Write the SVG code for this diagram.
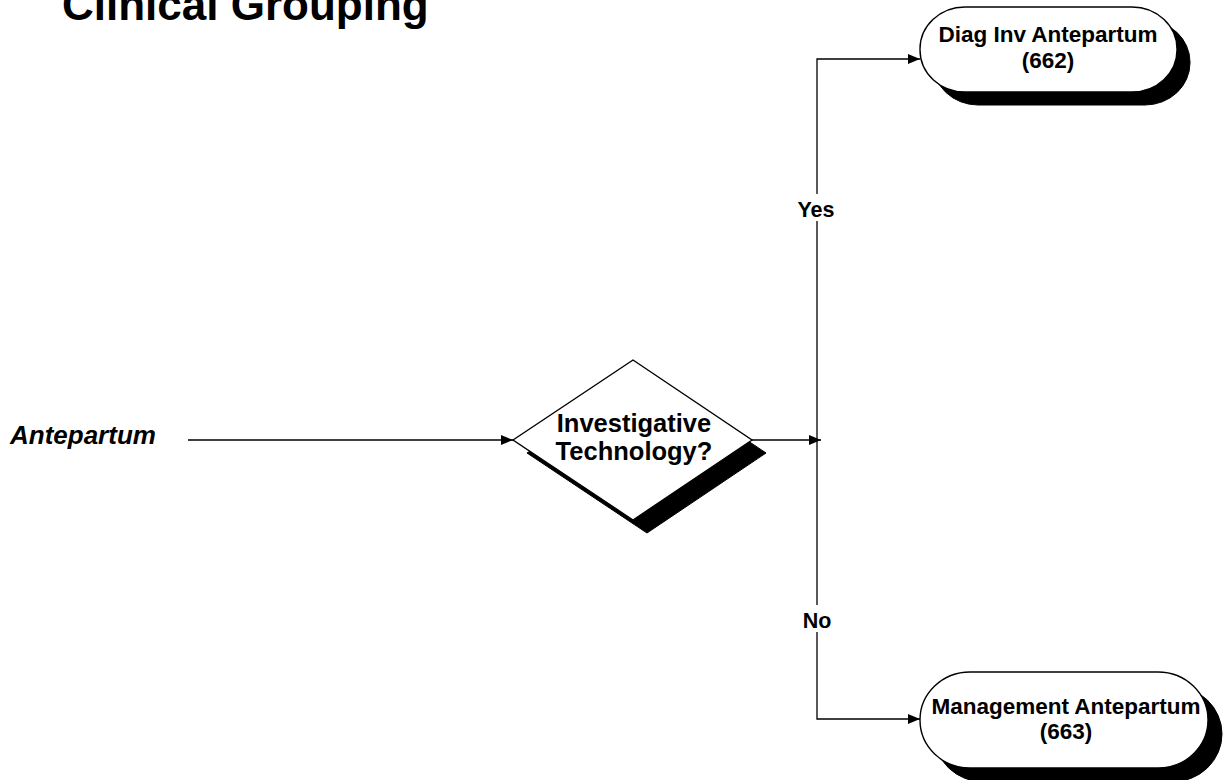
<svg xmlns="http://www.w3.org/2000/svg" width="1223" height="780" viewBox="0 0 1223 780">
<style>
text{font-family:"Liberation Sans",Arial,sans-serif;font-weight:bold;fill:#000}
.shape{fill:#fff;stroke:#000;stroke-width:1.4}
.shadow{fill:#000;stroke:#000;stroke-width:1}
.conn{fill:none;stroke:#000;stroke-width:1.3}
.nl{font-size:22.5px;text-anchor:middle}
.el{font-size:21.5px;text-anchor:middle}
</style>
<defs>
<marker id="arr" viewBox="0 0 12 10" refX="12" refY="5" markerWidth="12" markerHeight="10" markerUnits="userSpaceOnUse" orient="auto">
<path d="M0,0 L12,5 L0,10 Z" fill="#000"/>
</marker>
</defs>
<rect width="1223" height="780" fill="#fff"/>
<text id="title" x="62" y="20" style="font-size:44px">Clinical Grouping</text>
<g id="connectors">
<line class="conn" x1="188" y1="440" x2="513" y2="440" marker-end="url(#arr)"/>
<line class="conn" x1="752" y1="440" x2="821" y2="440" marker-end="url(#arr)"/>
<polyline class="conn" points="817,440 817,59 920,59" marker-end="url(#arr)"/>
<polyline class="conn" points="817,440 817,719 920,719" marker-end="url(#arr)"/>
<rect x="795" y="194" width="44" height="27" fill="#fff"/>
<text class="el" x="816" y="217">Yes</text>
<rect x="798" y="605" width="38" height="27" fill="#fff"/>
<text class="el" x="817" y="628">No</text>
</g>
<g id="start">
<text x="10" y="444" style="font-size:26px;font-style:italic">Antepartum</text>
</g>
<g id="decision">
<polygon class="shadow" points="527,453 647,373 766,453 647,533"/>
<polygon class="shape" points="513,440 633,360 752,440 633,520"/>
<text x="634" y="432" style="font-size:25.5px;text-anchor:middle">Investigative</text>
<text x="634" y="460" style="font-size:25.5px;text-anchor:middle">Technology?</text>
</g>
<g id="node662">
<rect class="shadow" x="933" y="20" width="257" height="85" rx="45" ry="42"/>
<rect class="shape" x="920" y="7" width="257" height="85" rx="45" ry="42"/>
<text class="nl" x="1048" y="42">Diag Inv Antepartum</text>
<text class="nl" x="1048" y="68">(662)</text>
</g>
<g id="node663">
<rect class="shadow" x="934" y="686" width="288" height="96" rx="50" ry="48"/>
<rect class="shape" x="920" y="672" width="288" height="96" rx="50" ry="48"/>
<text class="nl" x="1066" y="714">Management Antepartum</text>
<text class="nl" x="1066" y="739">(663)</text>
</g>
</svg>
